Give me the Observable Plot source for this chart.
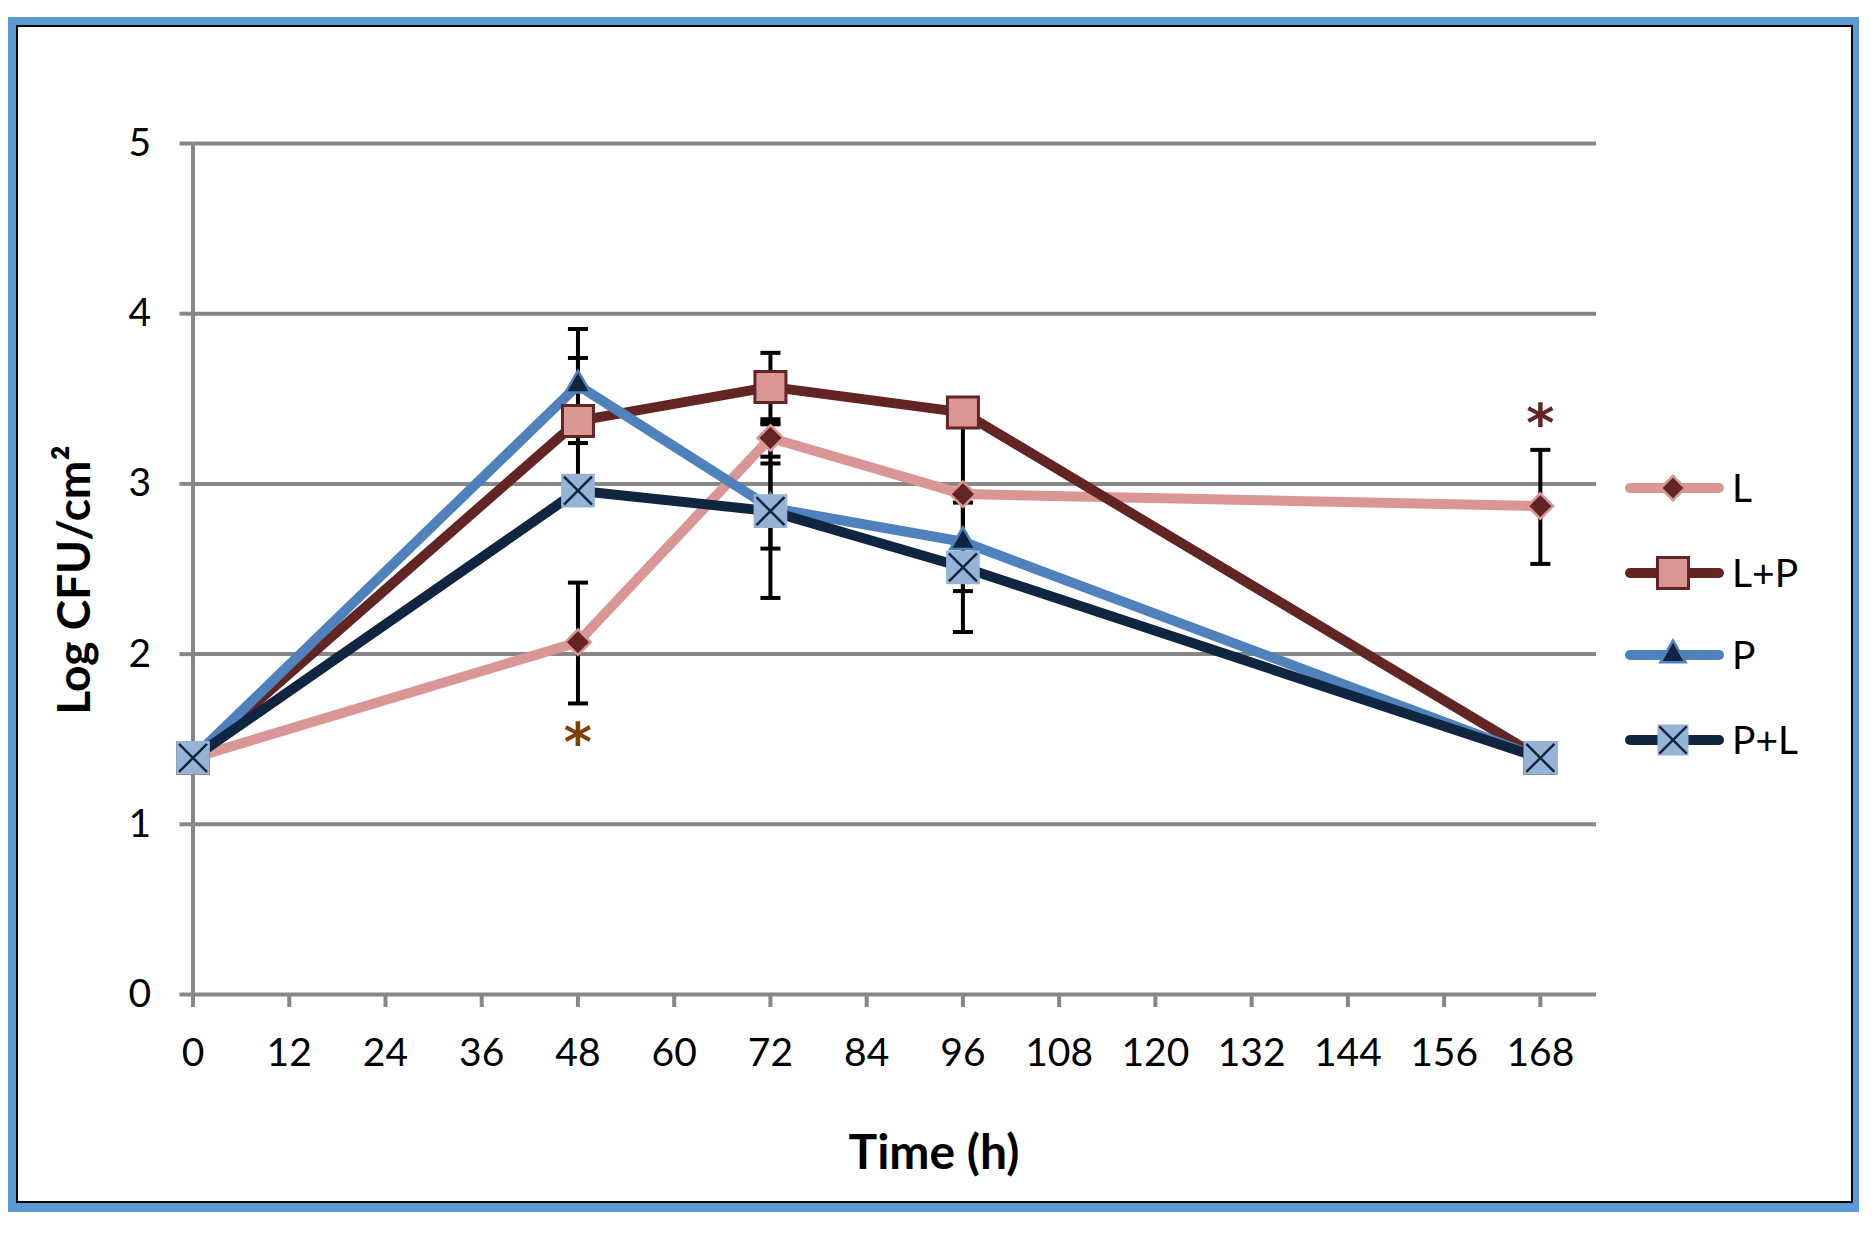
<!DOCTYPE html>
<html>
<head>
<meta charset="utf-8">
<script src="https://cdn.jsdelivr.net/npm/d3@7"></script>
<script src="https://cdn.jsdelivr.net/npm/@observablehq/plot@0.6"></script>
<style>
  html, body { margin: 0; padding: 0; background: #fff; }
  #wrap { position: relative; width: 1875px; height: 1240px; background: #fff; overflow: hidden; }
  #chart { position: absolute; left: 0; top: 0; }
  .frame-outer { position: absolute; left: 8px; top: 17px; width: 1851px; height: 1195px; box-sizing: border-box;
                 border-style: solid; border-color: #5b9bd5; border-width: 8px 6px 9px 8px; pointer-events: none; }
  .frame-inner { position: absolute; left: 0; top: 0; right: 0; bottom: 0; border: 2px solid #000; }
  .ytitle { position: absolute; left: 73px; top: 580px; transform: translate(-50%, -50%) rotate(-90deg);
            font-family: Lato, sans-serif; font-weight: 700; font-size: 46px; line-height: 1; white-space: nowrap; color: #000; }
  .xtitle { position: absolute; left: 934px; top: 1127px; transform: translateX(-50%);
            font-family: Lato, sans-serif; font-weight: 700; font-size: 48px; line-height: 1; white-space: nowrap; color: #000; }
  #legend { position: absolute; left: 0; top: 0; pointer-events: none; }
</style>
</head>
<body>
<div id="wrap">
  <div id="chart"></div>
  <div class="ytitle">Log CFU/cm²</div>
  <div class="xtitle">Time (h)</div>
  <svg id="legend" width="1875" height="1240"></svg>
  <div class="frame-outer"><div class="frame-inner"></div></div>
</div>
<script>
// ---------- data ----------
const times = [0, 48, 72, 96, 168];
const seriesNames = ["L", "L+P", "P", "P+L"];

const valL  = [1.39, 2.07, 3.27, 2.94, 2.87];
const valLP = [1.39, 3.37, 3.57, 3.42, 1.39];
const valP  = [1.39, 3.58, 2.86, 2.66, 1.39];
const valPL = [1.39, 2.96, 2.84, 2.51, 1.39];

// error bar ends (null = no bar)
const lowL   = [null, 1.71, 3.16, 2.47, 2.53];
const highL  = [null, 2.42, 3.38, 3.41, 3.20];
const lowLP  = [null, 3.00, 3.36, null, null];
const highLP = [null, 3.74, 3.77, null, null];
const lowP   = [null, 3.24, 2.62, 2.37, null];
const highP  = [null, 3.91, 3.12, 2.94, null];
const lowPL  = [null, null, 2.33, 2.13, null];
const highPL = [null, null, 3.35, 2.89, null];

// significance marks
const starLow  = [{time: 48, value: 1.54, label: "*"}];
const starHigh = [{time: 168, value: 3.41, label: "*"}];

const xTicks = [0, 12, 24, 36, 48, 60, 72, 84, 96, 108, 120, 132, 144, 156, 168];
const yTicks = [0, 1, 2, 3, 4, 5];

// ---------- styling ----------
const colL = "#d99694", colLP = "#632523", colP = "#4f81bd", colPL = "#10253f";
const fillLP = "#d99694", fillPL = "#95b3d7", fillL = "#632523", fillP = "#10253f";
const grid = "#878787";

const seriesData = [
  {name: seriesNames[0], vals: valL,  lo: lowL,  hi: highL},
  {name: seriesNames[1], vals: valLP, lo: lowLP, hi: highLP},
  {name: seriesNames[2], vals: valP,  lo: lowP,  hi: highP},
  {name: seriesNames[3], vals: valPL, lo: lowPL, hi: highPL}
];
const points = seriesData.flatMap(s => times.map((t, i) => ({series: s.name, time: t, value: s.vals[i], lo: s.lo[i], hi: s.hi[i]})));
const bars = points.filter(d => d.lo != null && d.hi != null);
const of = name => points.filter(d => d.series === name);

const capSymbol = {
  draw(context, size) {
    const w = Math.sqrt(size) / 2;
    context.moveTo(-w, 0);
    context.lineTo(w, 0);
  }
};

const lineOpts = {x: "time", y: "value", strokeWidth: 10, strokeLinejoin: "round", strokeLinecap: "round"};

const chart = Plot.plot({
  width: 1875,
  height: 1240,
  marginLeft: 192.5,
  marginRight: 279,
  marginTop: 143,
  marginBottom: 246,
  x: {domain: [0, 175], label: null},
  y: {domain: [0, 5], label: null},
  style: {fontFamily: "Lato, sans-serif", fontSize: "39px", color: "#000", background: "transparent", overflow: "visible"},
  marks: [
    Plot.ruleY(yTicks, {stroke: grid, strokeWidth: 4}),
    Plot.ruleX([0], {stroke: grid, strokeWidth: 4}),
    Plot.axisY({ticks: yTicks, tickFormat: d3.format("d"), tickSize: 13, tickPadding: 29, stroke: grid, strokeWidth: 4, label: null, fontSize: 39}),
    Plot.axisX({ticks: xTicks, tickFormat: d3.format("d"), tickSize: 13, tickPadding: 31, stroke: grid, strokeWidth: 4, label: null, fontSize: 39}),

    Plot.line(of("L"),   {...lineOpts, stroke: colL}),
    Plot.line(of("L+P"), {...lineOpts, stroke: colLP}),
    Plot.line(of("P"),   {...lineOpts, stroke: colP}),
    Plot.line(of("P+L"), {...lineOpts, stroke: colPL}),

    Plot.ruleX(bars, {x: "time", y1: "lo", y2: "hi", stroke: "#000", strokeWidth: 4}),
    Plot.dot(bars, {x: "time", y: "lo", symbol: capSymbol, r: 11.3, stroke: "#000", strokeWidth: 4}),
    Plot.dot(bars, {x: "time", y: "hi", symbol: capSymbol, r: 11.3, stroke: "#000", strokeWidth: 4}),

    Plot.dot(of("L"),   {x: "time", y: "value", symbol: "diamond2", r: 11.5, fill: fillL, stroke: colL, strokeWidth: 2.5}),
    Plot.dot(of("L+P"), {x: "time", y: "value", symbol: "square", r: 17.5, fill: fillLP, stroke: colLP, strokeWidth: 3}),
    Plot.dot(of("P"),   {x: "time", y: "value", symbol: "triangle2", r: 12, fill: fillP, stroke: colP, strokeWidth: 2.5}),
    Plot.dot(of("P+L"), {x: "time", y: "value", symbol: "square", r: 19, fill: fillPL}),
    Plot.dot(of("P+L"), {x: "time", y: "value", symbol: "times", r: 12.8, stroke: colPL, strokeWidth: 2.5}),

    Plot.text(starLow,  {x: "time", y: "value", text: "label", fill: "#7f4000", fontSize: 54, fontWeight: "bold", fontFamily: "DejaVu Sans", dy: 11}),
    Plot.text(starHigh, {x: "time", y: "value", text: "label", fill: "#632523", fontSize: 54, fontWeight: "bold", fontFamily: "DejaVu Sans", dy: 11})
  ]
});
document.getElementById("chart").appendChild(chart);

// ---------- legend ----------
const legendRows = [
  {name: seriesNames[0], stroke: colL,  marker: [{type: d3.symbolDiamond2, r: 11, fill: fillL, stroke: colL, sw: 2.5}]},
  {name: seriesNames[1], stroke: colLP, marker: [{type: d3.symbolSquare, r: 17.5, fill: fillLP, stroke: colLP, sw: 3}]},
  {name: seriesNames[2], stroke: colP,  marker: [{type: d3.symbolTriangle2, r: 12, fill: fillP, stroke: colP, sw: 2.5}]},
  {name: seriesNames[3], stroke: colPL, marker: [{type: d3.symbolSquare, r: 17.5, fill: fillPL, stroke: "none", sw: 0},
                                                 {type: d3.symbolTimes, r: 12.5, fill: "none", stroke: colPL, sw: 2.5}]}
];
const rowY = [488, 573, 655, 740];
const lg = d3.select("#legend");
legendRows.forEach((row, i) => {
  const g = lg.append("g").attr("transform", `translate(0,${rowY[i]})`);
  g.append("line").attr("x1", 1630).attr("x2", 1719).attr("y1", 0).attr("y2", 0)
    .attr("stroke", row.stroke).attr("stroke-width", 10).attr("stroke-linecap", "round");
  row.marker.forEach(m => {
    g.append("path").attr("transform", "translate(1673,0)")
      .attr("d", d3.symbol(m.type, Math.PI * m.r * m.r)())
      .attr("fill", m.fill).attr("stroke", m.stroke).attr("stroke-width", m.sw);
  });
  g.append("text").attr("x", 1732).attr("y", 14).text(row.name)
    .attr("font-family", "Lato, sans-serif").attr("font-size", 39).attr("fill", "#000");
});
</script>
</body>
</html>
